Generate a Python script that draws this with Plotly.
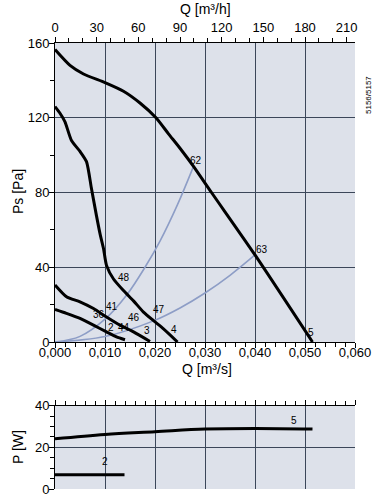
import plotly.graph_objects as go

# ---- data ----
# Ps [Pa] vs Q [m3/s] characteristic curves
q_c5 = [0.0, 0.003, 0.0057, 0.010, 0.0137, 0.017, 0.0202, 0.0227, 0.025, 0.0277, 0.0313, 0.040, 0.0515]
ps_c5 = [156.5, 148, 143.4, 138.8, 134.2, 127.9, 120, 111.4, 103.7, 94, 80, 46.6, 0]

q_c4 = [0.0, 0.001, 0.002, 0.0033, 0.005, 0.0063, 0.0073, 0.0083, 0.009, 0.0097, 0.0103, 0.0117, 0.0137, 0.0157, 0.0177, 0.0197, 0.0217, 0.0245]
ps_c4 = [126, 122.4, 117.8, 107.8, 102, 96.5, 82, 67.5, 58, 50, 41, 33.7, 27.5, 22, 16, 11.4, 7, 0]

q_c3 = [0.0, 0.0023, 0.005, 0.0077, 0.0103, 0.013, 0.0157, 0.019]
ps_c3 = [30.5, 24.2, 21.5, 17.9, 13.4, 9, 5.4, 0.3]

q_c2 = [0.0, 0.0023, 0.005, 0.0077, 0.0103, 0.0123, 0.014]
ps_c2 = [17.4, 15.3, 12.6, 9, 5.4, 2.7, 1.2]

# system curves
q_sysA = [0.0, 0.005, 0.010, 0.0143, 0.018, 0.021, 0.0245, 0.0277]
ps_sysA = [0, 3, 12.2, 25, 40, 54, 73.5, 94]
q_sysB = [0.0, 0.010, 0.0197, 0.025, 0.030, 0.035, 0.040]
ps_sysB = [0, 2.9, 11.3, 18.2, 26.2, 35.7, 46.6]

# Power P [W] vs Q
q_p5 = [0.0, 0.010, 0.020, 0.030, 0.040, 0.0515]
p_p5 = [24.1, 26.2, 27.5, 28.8, 29.1, 28.8]
q_p2 = [0.0, 0.0139]
p_p2 = [6.9, 6.9]

# point labels
lab_text = ["62", "63", "5", "48", "47", "4", "41", "46", "3", "36", "2", "44"]
lab_q = [0.0282, 0.0413, 0.0512, 0.0137, 0.0207, 0.0237, 0.0113, 0.0157, 0.0183, 0.0087, 0.0112, 0.0137]
lab_ps = [97, 49.5, 5, 34.4, 17.4, 6.7, 19.2, 13.1, 6.3, 14.9, 7.7, 7.7]
plab_text = ["5", "2"]
plab_q = [0.0477, 0.0100]
plab_p = [33.0, 13.1]

# ticks
x_ticks = [0.0, 0.01, 0.02, 0.03, 0.04, 0.05, 0.06]
xh_ticks = [0, 30, 60, 90, 120, 150, 180, 210]
y_ticks = [0, 40, 80, 120, 160]
yp_ticks = [0, 20, 40]

# ---- figure ----
BLK = "#000000"
SYS = "#8d9dc6"
GRID = "#3b4659"
BG = "#dde1ea"
FONT = "Liberation Sans, Arial, sans-serif"

FW, FH = 377, 500
# plot area in page pixels
L, R, T, B = 55, 355, 43, 489
W, H = R - L, B - T


def px(x):
    return (x - L) / W


def py(y):
    return (B - y) / H


fig = go.Figure()

for qx, yy in [(q_sysA, ps_sysA), (q_sysB, ps_sysB)]:
    fig.add_trace(go.Scatter(x=qx, y=yy, mode="lines", line=dict(color=SYS, width=1.6, shape="spline"),
                             xaxis="x", yaxis="y", hoverinfo="skip", showlegend=False))
for qx, yy in [(q_c5, ps_c5), (q_c4, ps_c4), (q_c3, ps_c3), (q_c2, ps_c2)]:
    fig.add_trace(go.Scatter(x=qx, y=yy, mode="lines",
                             line=dict(color=BLK, width=3, shape="spline", smoothing=0.6),
                             xaxis="x", yaxis="y", showlegend=False))

# invisible trace for top axis
fig.add_trace(go.Scatter(x=[0, 216], y=[0, 0], mode="lines", line=dict(width=0), opacity=0,
                         xaxis="x2", yaxis="y", hoverinfo="skip", showlegend=False))

for qx, yy in [(q_p5, p_p5), (q_p2, p_p2)]:
    fig.add_trace(go.Scatter(x=qx, y=yy, mode="lines", line=dict(color=BLK, width=3, shape="spline"),
                             xaxis="x3", yaxis="y3", showlegend=False))

annotations = []
for t, qx, yy in zip(lab_text, lab_q, lab_ps):
    annotations.append(dict(x=qx, y=yy, xref="x", yref="y", text=t, showarrow=False,
                            xanchor="center", yanchor="middle",
                            font=dict(size=10, color="#000", family=FONT)))
for t, qx, yy in zip(plab_text, plab_q, plab_p):
    annotations.append(dict(x=qx, y=yy, xref="x3", yref="y3", text=t, showarrow=False,
                            xanchor="center", yanchor="middle",
                            font=dict(size=10, color="#000", family=FONT)))

for t, x, y, ang, sz in [("Q [m³/h]", 205, 9, 0, 14),
                         ("Q [m³/s]", 207, 369, 0, 14),
                         ("Ps [Pa]", 18, 192, -90, 14),
                         ("P [W]", 18, 447, -90, 14),
                         ("5156/5157", 368, 95, -90, 8)]:
    annotations.append(dict(x=px(x), y=py(y), xref="paper", yref="paper", text=t, showarrow=False,
                            xanchor="center", yanchor="middle", textangle=ang,
                            font=dict(size=sz, family=FONT, color="#000")))

tickfont = dict(size=13, family=FONT, color="#000")

fig.update_layout(
    width=FW, height=FH,
    margin=dict(l=L, r=FW - R, t=T, b=FH - B, autoexpand=False),
    paper_bgcolor="white",
    plot_bgcolor=BG,
    separators=",.",
    annotations=annotations,
    xaxis=dict(domain=[0, 1], range=[0, 0.06], anchor="y", tickvals=x_ticks, tickformat=".3f",
               ticks="outside", ticklen=5, tickcolor="#000", tickfont=tickfont, automargin=False,
               ticklabelstandoff=-7,
               showgrid=True, gridcolor=GRID, gridwidth=1, zeroline=False,
               showline=True, linecolor="#000", linewidth=1, mirror=False,
               minor=dict(dtick=0.002, ticks="outside", ticklen=4, tickcolor="#000", showgrid=False)),
    xaxis2=dict(range=[0, 216], overlaying="x", anchor="y", side="top", tickvals=xh_ticks,
                ticks="outside", ticklen=5, tickcolor="#000", tickfont=tickfont, automargin=False,
                showgrid=False, zeroline=False, showline=True, linecolor="#000", linewidth=1,
                minor=dict(dtick=10, ticks="outside", ticklen=4, tickcolor="#000", showgrid=False)),
    yaxis=dict(domain=[py(342), 1], range=[0, 160], anchor="x", tickvals=y_ticks,
               ticks="outside", ticklen=5, tickcolor="#000", tickfont=tickfont, automargin=False,
               ticklabelstandoff=-3,
               showgrid=True, gridcolor=GRID, gridwidth=1, zeroline=False,
               showline=True, linecolor="#000", linewidth=1, mirror=False,
               minor=dict(dtick=20, ticks="outside", ticklen=4, tickcolor="#000", showgrid=False)),
    xaxis3=dict(domain=[0, 1], range=[0, 0.06], anchor="y3", side="top", tickvals=x_ticks,
                showticklabels=False, ticks="outside", ticklen=5, tickcolor="#000", automargin=False,
                showgrid=True, gridcolor=GRID, gridwidth=1, zeroline=False,
                showline=True, linecolor="#000", linewidth=1,
                minor=dict(dtick=0.002, ticks="outside", ticklen=4, tickcolor="#000", showgrid=False)),
    yaxis3=dict(domain=[0, py(405.7)], range=[0, 40], anchor="x3", tickvals=yp_ticks,
                ticks="outside", ticklen=5, tickcolor="#000", tickfont=tickfont, automargin=False,
                ticklabelstandoff=-3,
                showgrid=True, gridcolor=GRID, gridwidth=1, zeroline=False,
                showline=True, linecolor="#000", linewidth=1,
                minor=dict(dtick=5, ticks="outside", ticklen=4, tickcolor="#000", showgrid=False)),
)

fig.write_html("out.html", config={"displayModeBar": False},
               post_script="document.body.style.margin='0';document.body.style.padding='0';")
